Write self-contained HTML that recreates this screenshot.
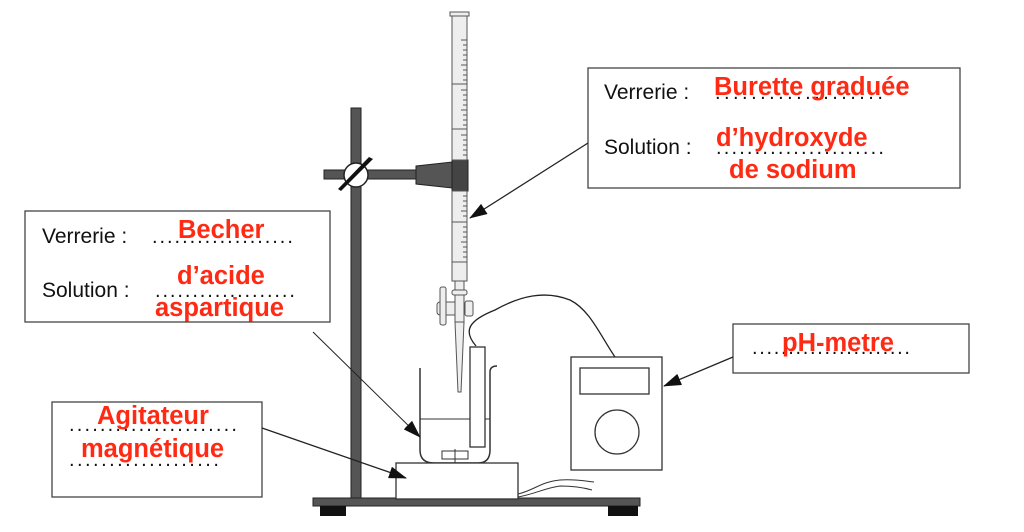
<!DOCTYPE html>
<html><head><meta charset="utf-8"><style>
html,body{margin:0;padding:0;background:#fff;}
svg{display:block;}
.b{font-family:"Liberation Sans",sans-serif;font-size:21px;fill:#111;}
.r{font-family:"Liberation Sans",sans-serif;font-size:25.5px;font-weight:bold;fill:#ff2a14;}
.d{font-family:"Liberation Sans",sans-serif;font-size:20px;fill:#111;letter-spacing:2.1px;}
</style></head><body>
<svg width="1024" height="532" viewBox="0 0 1024 532" xmlns="http://www.w3.org/2000/svg">
<defs>
<marker id="A" markerWidth="18" markerHeight="12" refX="17" refY="6" orient="auto" markerUnits="userSpaceOnUse" viewBox="0 0 18 12"><path d="M0,0 L18,6 L0,12 z" fill="#111"/></marker></defs>

<!-- stand -->
<rect x="313" y="498" width="327" height="8" fill="#555" stroke="#222"/>
<rect x="320" y="506" width="26" height="10" fill="#111"/>
<rect x="608" y="506" width="30" height="10" fill="#111"/>
<rect x="351" y="108" width="10" height="390" fill="#555" stroke="#222"/>
<rect x="324" y="170" width="95" height="9" fill="#555" stroke="#222"/>
<circle cx="356" cy="175" r="12" fill="#fff" stroke="#222" stroke-width="1.5"/>
<path d="M341,191 L373,159 L369,157 L338,189z" fill="#111"/>
<path d="M416,166 L452,162 L452,188 L416,184z" fill="#555" stroke="#222"/>
<rect x="452" y="160" width="16" height="31" fill="#444" stroke="#222"/>

<!-- burette -->
<rect x="452" y="14" width="15" height="146" fill="#eee" stroke="#555"/>
<rect x="452" y="191" width="15" height="90" fill="#eee" stroke="#555"/>
<rect x="450" y="12" width="19" height="4" fill="#eee" stroke="#555"/>
<g stroke="#555" stroke-width="1">
<path d="M461,40h6M463,45h4M463,50h4M463,55h4M463,60h4M461,65h6M463,70h4M463,75h4M463,80h4M452,84h15M461,90h6M463,95h4M463,100h4M463,105h4M461,110h6M463,115h4M463,120h4M463,125h4M452,129h15M461,135h6M463,140h4M463,145h4M463,150h4M463,155h4M463,196h4M463,201h4M463,206h4M461,211h6M463,216h4M452,222h15M463,227h4M463,232h4M463,237h4M461,242h6M463,247h4M463,252h4M463,257h4M452,262h15"/>
</g>
<rect x="455" y="281" width="9" height="10" fill="#eee" stroke="#555"/>
<rect x="452" y="290" width="15" height="5" rx="2" fill="#eee" stroke="#555"/>
<rect x="437" y="302" width="28" height="13" rx="3" fill="#eee" stroke="#555"/>
<rect x="440" y="287" width="6" height="38" rx="2" fill="#eee" stroke="#555"/>
<rect x="465" y="301" width="8" height="15" rx="2" fill="#eee" stroke="#555"/>
<rect x="455" y="295" width="9" height="28" fill="#eee" stroke="#555"/>
<path d="M455,322 L458,392 L461,392 L464,322z" fill="#eee" stroke="#555"/>

<!-- wire -->
<path d="M476,346 C462,330 470,320 495,310 C520,296 545,290 570,300 C590,310 600,335 615,357" fill="none" stroke="#222" stroke-width="1.3"/>

<!-- beaker -->
<path d="M420,368 L420,450 Q420,463 434,463 L478,463 Q490,463 490,450 L490,372 Q490,366 497,366" fill="none" stroke="#333" stroke-width="1.5"/>
<line x1="420" y1="419" x2="490" y2="419" stroke="#333"/>
<rect x="470" y="347" width="15" height="100" fill="#fff" stroke="#333" stroke-width="1.3"/>
<rect x="442" y="451" width="26" height="8" fill="#fff" stroke="#333"/>
<line x1="455" y1="449" x2="455" y2="463" stroke="#333"/>

<!-- stirrer -->
<rect x="396" y="463" width="122" height="36" fill="#fff" stroke="#333" stroke-width="1.3"/>
<path d="M518,494 C535,490 540,482 560,480 C575,479 585,481 594,482 M518,497 C535,494 545,488 560,486 C575,486 585,488 592,490" fill="none" stroke="#333"/>

<!-- meter -->
<rect x="571" y="357" width="91" height="113" fill="#fff" stroke="#333" stroke-width="1.3"/>
<rect x="580" y="368" width="69" height="26" fill="#fff" stroke="#333" stroke-width="1.3"/>
<circle cx="617" cy="432" r="22" fill="#fff" stroke="#333" stroke-width="1.3"/>

<!-- boxes -->
<rect x="588" y="68" width="372" height="120" fill="#fff" stroke="#444" stroke-width="1.3"/>
<rect x="25" y="211" width="305" height="111" fill="#fff" stroke="#444" stroke-width="1.3"/>
<rect x="52" y="402" width="210" height="95" fill="#fff" stroke="#444" stroke-width="1.3"/>
<rect x="733" y="324" width="236" height="49" fill="#fff" stroke="#444" stroke-width="1.3"/>

<!-- arrows -->
<line x1="588" y1="143" x2="470" y2="218" stroke="#222" stroke-width="1.3" marker-end="url(#A)"/>
<line x1="313" y1="332" x2="420" y2="437" stroke="#222" stroke-width="1" marker-end="url(#A)"/>
<line x1="262" y1="428" x2="406" y2="478" stroke="#222" stroke-width="1.3" marker-end="url(#A)"/>
<line x1="733" y1="357" x2="664" y2="386" stroke="#222" stroke-width="1.3" marker-end="url(#A)"/>

<!-- texts -->
<text class="b" x="42" y="243">Verrerie :</text>
<text class="d" x="152" y="243" textLength="143" lengthAdjust="spacing">...................</text>
<text class="r" x="178" y="238">Becher</text>
<text class="b" x="42" y="297">Solution :</text>
<text class="d" x="155" y="297" textLength="142" lengthAdjust="spacing">...................</text>
<text class="r" x="177" y="284">d’acide</text>
<text class="r" x="155" y="316">aspartique</text>

<text class="d" x="69" y="431" textLength="170" lengthAdjust="spacing">......................</text>
<text class="r" x="97" y="424">Agitateur</text>
<text class="r" x="81" y="457">magnétique</text>
<text class="d" x="69" y="466" textLength="152" lengthAdjust="spacing">...................</text>

<text class="b" x="604" y="99">Verrerie :</text>
<text class="d" x="715" y="99" textLength="170" lengthAdjust="spacing">...................</text>
<text class="r" x="714" y="95">Burette graduée</text>
<text class="b" x="604" y="154">Solution :</text>
<text class="d" x="716" y="154" textLength="170" lengthAdjust="spacing">......................</text>
<text class="r" x="716" y="146">d’hydroxyde</text>
<text class="r" x="729" y="178">de sodium</text>

<text class="d" x="752" y="354" textLength="160" lengthAdjust="spacing">......................</text>
<text class="r" x="782" y="351">pH-metre</text>
</svg>
</body></html>
